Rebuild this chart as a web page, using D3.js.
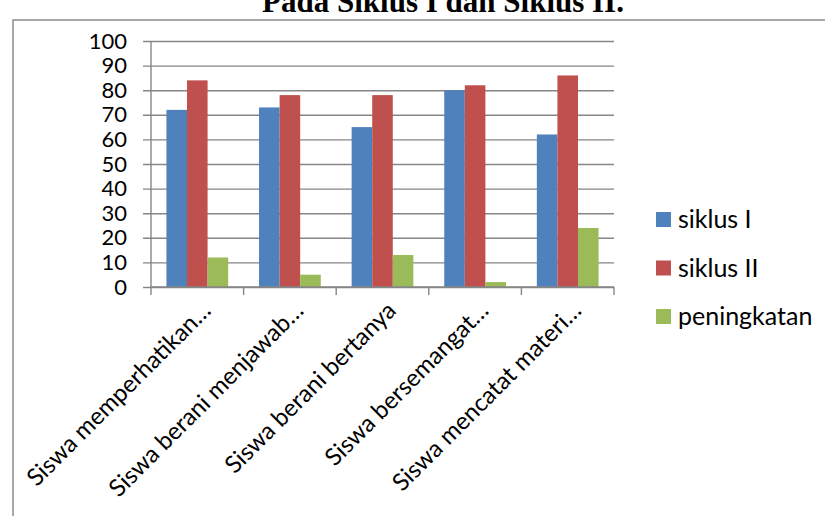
<!DOCTYPE html>
<html>
<head>
<meta charset="utf-8">
<script src="https://cdn.jsdelivr.net/npm/d3@7"></script>
<style>
  html, body { margin: 0; padding: 0; background: #fff; }
  svg { display: block; }
</style>
</head>
<body>
<svg id="chart" width="825" height="516"></svg>
<script>
// ---- data ----
const categories = [
  "Siswa memperhatikan…",
  "Siswa berani menjawab…",
  "Siswa berani bertanya",
  "Siswa bersemangat…",
  "Siswa mencatat materi…"
];
const seriesNames = ["siklus I", "siklus II", "peningkatan"];
const siklus1     = [72, 73, 65, 80, 62];
const siklus2     = [84, 78, 78, 82, 86];
const peningkatan = [12, 5, 13, 2, 24];
const yTicks = [0, 10, 20, 30, 40, 50, 60, 70, 80, 90, 100];
const colors = ["#4F81BD", "#C0504D", "#9BBB59"];

const values = [siklus1, siklus2, peningkatan];
const rows = categories.map((c, i) => ({ cat: c, vals: values.map(v => v[i]) }));

const svg = d3.select("#chart");
const FONT = "Lato, 'Open Sans', sans-serif";

// title (clipped at the top like the source)
svg.append("text")
  .attr("x", 443).attr("y", 12)
  .attr("text-anchor", "middle")
  .attr("font-family", "'Liberation Serif', 'Times New Roman', serif")
  .attr("font-weight", "bold")
  .attr("font-size", 31)
  .text("Pada Siklus I dan Siklus II.");

// chart frame
svg.append("rect")
  .attr("x", 13).attr("y", 20)
  .attr("width", 830).attr("height", 520)
  .attr("fill", "none")
  .attr("stroke", "#8c8c8c")
  .attr("stroke-width", 1.5);

// ---- scales ----
const plot = { left: 151, right: 614, top: 41, bottom: 287 };
const x0 = d3.scaleBand().domain(categories).range([plot.left, plot.right]);
const bw = x0.bandwidth();
const barW = bw / (seriesNames.length + 1.5);
const x1 = d3.scaleBand().domain(seriesNames)
  .range([barW * 0.75, bw - barW * 0.75]);
const y = d3.scaleLinear().domain([0, 100]).range([plot.bottom, plot.top]);

// gridlines + y axis
const gY = svg.append("g").attr("transform", `translate(${plot.left},0)`)
  .call(d3.axisLeft(y).tickValues(yTicks).tickSize(8).tickPadding(16));
gY.select(".domain").remove();
gY.selectAll(".tick line").attr("stroke", "#868686").attr("stroke-width", 1.4)
  .attr("x2", plot.right - plot.left).attr("x1", -8);
gY.selectAll(".tick text")
  .attr("font-family", FONT).attr("font-size", 22).attr("fill", "#000");

svg.append("line")
  .attr("x1", plot.left).attr("x2", plot.left)
  .attr("y1", plot.top).attr("y2", plot.bottom)
  .attr("stroke", "#868686").attr("stroke-width", 1.4);

// bars
const groups = svg.append("g").selectAll("g").data(rows).join("g")
  .attr("transform", d => `translate(${x0(d.cat)},0)`);
groups.selectAll("rect")
  .data(d => d.vals.map((v, i) => ({ key: seriesNames[i], v, i })))
  .join("rect")
  .attr("x", d => x1(d.key))
  .attr("width", x1.bandwidth())
  .attr("y", d => y(d.v))
  .attr("height", d => y(0) - y(d.v))
  .attr("fill", d => colors[d.i]);

// x axis
const gX = svg.append("g").attr("transform", `translate(0,${plot.bottom})`);
gX.append("line")
  .attr("x1", plot.left).attr("x2", plot.right)
  .attr("stroke", "#868686").attr("stroke-width", 1.4);
gX.selectAll("line.tk")
  .data(categories.map(c => x0(c)).concat([plot.right]))
  .join("line").attr("class", "tk")
  .attr("x1", d => d).attr("x2", d => d)
  .attr("y1", 0).attr("y2", 8)
  .attr("stroke", "#868686").attr("stroke-width", 1.4);

gX.selectAll("text")
  .data(categories)
  .join("text")
  .attr("text-anchor", "end")
  .attr("font-family", FONT).attr("font-size", 24)
  .attr("transform", d => `translate(${x0(d) + bw / 2 + 15},${25}) rotate(-45)`)
  .text(d => d);

// legend
const legend = svg.append("g").attr("transform", "translate(656,212)");
const li = legend.selectAll("g").data(seriesNames).join("g")
  .attr("transform", (d, i) => `translate(0,${i * 48.5})`);
li.append("rect").attr("width", 15).attr("height", 15)
  .attr("fill", (d, i) => colors[i]);
li.append("text")
  .attr("x", 22).attr("y", 7.5).attr("dy", "0.35em")
  .attr("font-family", FONT).attr("font-size", 25)
  .text(d => d);
</script>
</body>
</html>
